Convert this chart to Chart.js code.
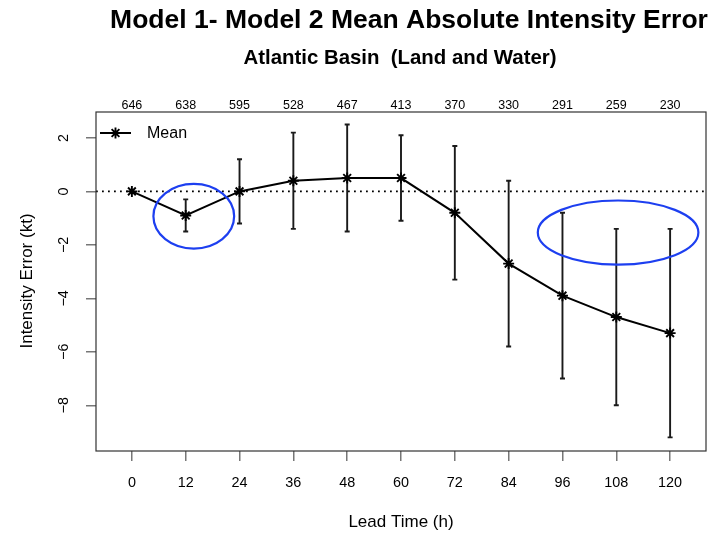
<!DOCTYPE html>
<html>
<head>
<meta charset="utf-8">
<script src="https://cdn.jsdelivr.net/npm/chart.js@4.4.1/dist/chart.umd.min.js"></script>
<style>
  html, body { margin: 0; padding: 0; background: #fff; }
  #wrap { width: 725px; height: 533px; }
</style>
</head>
<body>
<div id="wrap"><canvas id="c" width="725" height="533"></canvas></div>
<script>
// Lead times (h) and the number of forecast cases at each one
const leadTimes = [0, 12, 24, 36, 48, 60, 72, 84, 96, 108, 120];
const caseCounts = [646, 638, 595, 528, 467, 413, 370, 330, 291, 259, 230];

// Mean intensity error difference (kt) and its error-bar limits
const meanError = [0, -0.9, 0, 0.4, 0.5, 0.5, -0.8, -2.7, -3.9, -4.7, -5.3];
const upperLimit = [0, -0.3, 1.2, 2.2, 2.5, 2.1, 1.7, 0.4, -0.8, -1.4, -1.4];
const lowerLimit = [0, -1.5, -1.2, -1.4, -1.5, -1.1, -3.3, -5.8, -7.0, -8.0, -9.2];

// Axis ticks
const yTickValues = [-8, -6, -4, -2, 0, 2];

// Highlight ellipses: centre (x, y) and half-extents in data units
const highlightCenterX = [13.8, 108.4];
const highlightCenterY = [-0.93, -1.54];
const highlightRadiusX = [9.0, 17.9];
const highlightRadiusY = [1.21, 1.2];

const FONT = '"Liberation Sans", Arial, Helvetica, sans-serif';

const decorations = {
  id: 'decorations',
  beforeDatasetsDraw(chart) {
    const { ctx, chartArea: a, scales: { x, y } } = chart;
    ctx.save();
    // dotted zero reference line
    const y0 = y.getPixelForValue(0);
    ctx.strokeStyle = '#000';
    ctx.lineWidth = 1.6;
    ctx.setLineDash([1.8, 4.2]);
    ctx.beginPath();
    ctx.moveTo(a.left, y0);
    ctx.lineTo(a.right, y0);
    ctx.stroke();
    ctx.setLineDash([]);

    // error bars with small caps
    ctx.strokeStyle = '#1a1a1a';
    ctx.lineWidth = 1.9;
    leadTimes.forEach((t, i) => {
      if (upperLimit[i] === lowerLimit[i]) return;
      const px = x.getPixelForValue(t);
      const pTop = y.getPixelForValue(upperLimit[i]);
      const pBot = y.getPixelForValue(lowerLimit[i]);
      ctx.beginPath();
      ctx.moveTo(px, pTop); ctx.lineTo(px, pBot);
      ctx.moveTo(px - 2.5, pTop); ctx.lineTo(px + 2.5, pTop);
      ctx.moveTo(px - 2.5, pBot); ctx.lineTo(px + 2.5, pBot);
      ctx.stroke();
    });
    ctx.restore();
  },
  afterDraw(chart) {
    const { ctx, chartArea: a, scales: { x, y } } = chart;
    ctx.save();

    // plot frame
    ctx.strokeStyle = '#333';
    ctx.lineWidth = 1.2;
    ctx.strokeRect(a.left, a.top, a.right - a.left, a.bottom - a.top);

    // rotated y tick labels
    ctx.fillStyle = '#000';
    ctx.font = '14.4px ' + FONT;
    ctx.textAlign = 'center';
    ctx.textBaseline = 'middle';
    yTickValues.forEach(v => {
      const py = y.getPixelForValue(v);
      const label = v < 0 ? '\u2212' + Math.abs(v) : String(v);
      ctx.save();
      ctx.translate(64, py);
      ctx.rotate(-Math.PI / 2);
      ctx.fillText(label, 0, 0);
      ctx.restore();
    });

    // titles
    ctx.textBaseline = 'alphabetic';
    ctx.font = 'bold 26.5px ' + FONT;
    ctx.fillText('Model 1- Model 2 Mean Absolute Intensity Error', 409, 28);
    ctx.font = 'bold 20.4px ' + FONT;
    ctx.fillText('Atlantic Basin  (Land and Water)', 400, 64);

    // axis titles
    ctx.font = '17px ' + FONT;
    ctx.fillText('Lead Time (h)', 401, 527);
    ctx.save();
    ctx.translate(32, 281);
    ctx.rotate(-Math.PI / 2);
    ctx.fillText('Intensity Error (kt)', 0, 0);
    ctx.restore();

    // legend
    const ly = a.top + 21;
    ctx.strokeStyle = '#000';
    ctx.lineWidth = 2;
    ctx.beginPath();
    ctx.moveTo(a.left + 4, ly);
    ctx.lineTo(a.left + 35, ly);
    ctx.stroke();
    ctx.lineWidth = 1.9;
    Chart.helpers.drawPoint(ctx, { pointStyle: 'star', radius: 5.5, rotation: 0, borderWidth: 1.9 }, a.left + 19.5, ly);
    ctx.font = '16px ' + FONT;
    ctx.textAlign = 'left';
    ctx.textBaseline = 'middle';
    ctx.fillText('Mean', a.left + 51, ly + 1);

    // highlight ellipses
    ctx.strokeStyle = '#1d3ff0';
    ctx.lineWidth = 2.2;
    highlightCenterX.forEach((cx, i) => {
      const px = x.getPixelForValue(cx);
      const py = y.getPixelForValue(highlightCenterY[i]);
      const rx = Math.abs(x.getPixelForValue(cx + highlightRadiusX[i]) - px);
      const ry = Math.abs(y.getPixelForValue(highlightCenterY[i] + highlightRadiusY[i]) - py);
      ctx.beginPath();
      ctx.ellipse(px, py, rx, ry, 0, 0, Math.PI * 2);
      ctx.stroke();
    });
    ctx.restore();
  }
};

new Chart(document.getElementById('c'), {
  type: 'line',
  data: {
    datasets: [{
      label: 'Mean',
      data: leadTimes.map((t, i) => ({ x: t, y: meanError[i] })),
      borderColor: '#000',
      borderWidth: 2,
      pointStyle: 'star',
      pointRadius: 5.5,
      pointBorderWidth: 1.9,
      pointBorderColor: '#000',
      pointBackgroundColor: '#000',
      tension: 0,
      fill: false
    }]
  },
  options: {
    responsive: false,
    devicePixelRatio: 1,
    animation: false,
    layout: { padding: { left: 0, right: 19, top: 0, bottom: 0 } },
    plugins: { legend: { display: false }, tooltip: { enabled: false } },
    scales: {
      x: {
        type: 'linear',
        position: 'bottom',
        min: -8,
        max: 128,
        afterBuildTicks: s => { s.ticks = leadTimes.map(v => ({ value: v })); },
        afterFit: s => { s.height = 82; },
        ticks: {
          autoSkip: false,
          maxRotation: 0,
          padding: 13,
          color: '#000',
          font: { family: FONT, size: 14.4 },
          callback: v => String(v)
        },
        grid: { drawOnChartArea: false, drawTicks: true, tickLength: 10, color: '#777', lineWidth: 1.5 },
        border: { display: false }
      },
      xTop: {
        type: 'linear',
        position: 'top',
        min: -8,
        max: 128,
        afterBuildTicks: s => { s.ticks = leadTimes.map(v => ({ value: v })); },
        afterFit: s => { s.height = 112; },
        ticks: {
          autoSkip: false,
          maxRotation: 0,
          padding: -1,
          color: '#000',
          font: { family: FONT, size: 12.5 },
          callback: (v, i) => String(caseCounts[i])
        },
        grid: { display: false, drawTicks: false },
        border: { display: false }
      },
      y: {
        type: 'linear',
        min: -9.71,
        max: 2.97,
        afterBuildTicks: s => { s.ticks = yTickValues.map(v => ({ value: v })); },
        afterFit: s => { s.width = 96; },
        ticks: { display: false },
        grid: { drawOnChartArea: false, drawTicks: true, tickLength: 10, color: '#777', lineWidth: 1.5 },
        border: { display: false }
      }
    }
  },
  plugins: [decorations]
});
</script>
</body>
</html>
